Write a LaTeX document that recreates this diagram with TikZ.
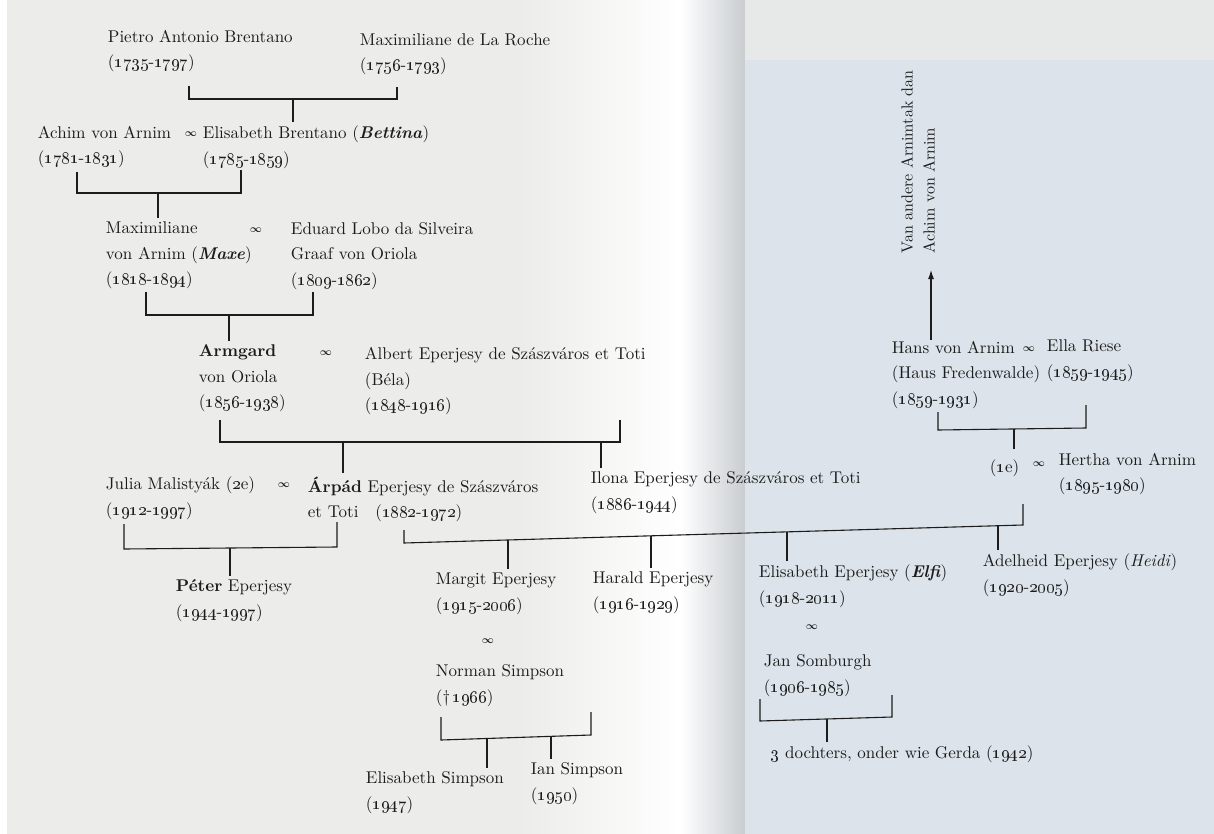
\documentclass[tikz,border=0pt]{standalone}
\usepackage{tikz}
\usetikzlibrary{calc}
\usetikzlibrary{arrows.meta}

\definecolor{pageleft}{HTML}{ECECEA}
\definecolor{pageright}{HTML}{DCE3EA}
\definecolor{pagetop}{HTML}{E7E8E8}
\definecolor{spine}{HTML}{C9CDD0}
\definecolor{ink}{HTML}{1C1C1C}

\newcommand\psz{\fontsize{10}{15}\selectfont}
\newcommand\os[1]{\oldstylenums{#1}}
\newcommand\ls[2]{(\oldstylenums{#1}-\oldstylenums{#2})}

\begin{document}
\begin{tikzpicture}[x=1pt, y=-1pt, line width=1.1pt,
    person/.style={anchor=north west, inner sep=0pt, align=left, font=\psz, text=ink, scale=1.7},
    wed/.style={inner sep=0pt, font=\fontsize{10}{12}\selectfont\boldmath, text=ink, scale=1.05},
    note/.style={rotate=90, anchor=west, align=left, inner sep=0pt,
                 font=\fontsize{10}{13.75}\selectfont, text=ink, scale=1.6},
    drop/.style={draw=ink, shorten >=3pt}]
            \useasboundingbox (0,0) rectangle (1214,834);
            \fill[pageleft] (0,0) rectangle (1214,834);
            \fill[white] (0,0) rectangle (7,834);
            \shade[left color=pageleft, right color=white] (520,0) rectangle (680,834);
            \shade[left color=white, right color=spine] (680,0) rectangle (745,834);
            \fill[pagetop] (745,0) rectangle (1214,60);
            \fill[pageright] (745,60) rectangle (1214,834);

            \node[person] (pietro) at (107,29) {Pietro Antonio Brentano\\\ls{1735}{1797}};
            \node[person] (laroche) at (359,32.5) {Maximiliane de La Roche\\\ls{1756}{1793}};
            \node[person] (achim) at (37,125) {Achim von Arnim\\\ls{1781}{1831}};
            \node[wed] (w1) at (191,134) {$\infty$};
            \node[person] (bettina) at (202,125) {Elisabeth Brentano (\textbf{\textit{Bettina}})\\\ls{1785}{1859}};
            \node[person] (maxe) at (105,221) {Maximiliane\\von Arnim (\textbf{\textit{Maxe}})\\\ls{1818}{1894}};
            \node[wed] (w2) at (256,230) {$\infty$};
            \node[person] (eduard) at (290,221.5) {Eduard Lobo da Silveira\\Graaf von Oriola\\\ls{1809}{1862}};
            \node[person] (armgard) at (198,344) {\textbf{Armgard}\\von Oriola\\\ls{1856}{1938}};
            \node[wed] (w3) at (326,353) {$\infty$};
            \node[person] (albert) at (364,346.5) {Albert Eperjesy de Szászváros et Toti\\(Béla)\\\ls{1848}{1916}};
            \node[person] (julia) at (105,476) {Julia Malistyák (\os{2}e)\\\ls{1912}{1997}};
            \node[wed] (w4) at (284,485) {$\infty$};
            \node[person] (arpad) at (307,476) {\textbf{Árpád} Eperjesy de Szászváros\\et Toti\hspace{10pt}\ls{1882}{1972}};
            \node[person] (ilona) at (590,471) {Ilona Eperjesy de Szászváros et Toti\\\ls{1886}{1944}};
            \node[person] (hans) at (891,340) {Hans von Arnim\\(Haus Fredenwalde)\\\ls{1859}{1931}};
            \node[wed] (w5) at (1029,349) {$\infty$};
            \node[person] (ella) at (1046,339) {Ella Riese\\\ls{1859}{1945}};
            \node[note] (note) at (918,254) {Van andere Arnimtak dan\\Achim von Arnim};
            \node[person] (first) at (989,459) {(\os{1}e)};
            \node[wed] (w6) at (1039,464) {$\infty$};
            \node[person] (hertha) at (1058,452) {Hertha von Arnim\\\ls{1895}{1980}};
            \node[person] (peter) at (175,579) {\textbf{Péter} Eperjesy\\\ls{1944}{1997}};
            \node[person] (margit) at (435,572) {Margit Eperjesy\\\ls{1915}{2006}};
            \node[wed] (w7) at (488,641) {$\infty$};
            \node[person] (norman) at (435,664) {Norman Simpson\\(\textdagger\,\os{1966})};
            \node[person] (harald) at (592,571) {Harald Eperjesy\\\ls{1916}{1929}};
            \node[person] (elfi) at (758,564) {Elisabeth Eperjesy (\textbf{\textit{Elfi}})\\\ls{1918}{2011}};
            \node[wed] (w8) at (812,627) {$\infty$};
            \node[person] (jan) at (763,654) {Jan Somburgh\\\ls{1906}{1985}};
            \node[person] (heidi) at (982,553) {Adelheid Eperjesy (\textit{Heidi})\\\ls{1920}{2005}};
            \node[person] (esimpson) at (365,771) {Elisabeth Simpson\\(\os{1947})};
            \node[person] (ian) at (530,762) {Ian Simpson\\(\os{1950})};
            \node[person] (dochters) at (770,745) {\os{3} dochters, onder wie Gerda (\os{1942})};

            \coordinate (B1a) at (189,86);   \coordinate (B1b) at (189,99);
            \coordinate (B1c) at (397,99);   \coordinate (B1d) at (397,87);
            \coordinate (B1m) at (293,99);
            \coordinate (B2a) at (77,172);   \coordinate (B2b) at (77,193);
            \coordinate (B2c) at (241,193);  \coordinate (B2d) at (241,170);
            \coordinate (B2m) at (158,193);
            \coordinate (B3a) at (146,292);  \coordinate (B3b) at (146,315);
            \coordinate (B3c) at (313,315);  \coordinate (B3d) at (313,292);
            \coordinate (B3m) at (229,315);
            \coordinate (B4a) at (220,420);  \coordinate (B4b) at (220,442);
            \coordinate (B4c) at (620,442);  \coordinate (B4d) at (620,420);
            \coordinate (B4m) at (343,442);  \coordinate (B4n) at (601,442);
            \coordinate (B5a) at (124,524);  \coordinate (B5b) at (124,549);
            \coordinate (B5c) at (337,547);  \coordinate (B5d) at (337,522);
            \coordinate (B5m) at (230,548);
            \coordinate (B6a) at (404,530);  \coordinate (B6b) at (404,543);
            \coordinate (B6c) at (1023,525); \coordinate (B6d) at (1023,504);
            \coordinate (B6m) at (508,540);  \coordinate (B6n) at (651,535.8);
            \coordinate (B6o) at (787,531.9); \coordinate (B6p) at (998,525.7);
            \coordinate (B7a) at (938,412);  \coordinate (B7b) at (938,430);
            \coordinate (B7c) at (1086,428); \coordinate (B7d) at (1086,405);
            \coordinate (B7m) at (1014,429);
            \coordinate (B8a) at (441,717);  \coordinate (B8b) at (441,740);
            \coordinate (B8c) at (591,735);  \coordinate (B8d) at (591,712);
            \coordinate (B8m) at (487,738.5); \coordinate (B8n) at (551,736.7);
            \coordinate (B9a) at (760,699);  \coordinate (B9b) at (760,721);
            \coordinate (B9c) at (892,717);  \coordinate (B9d) at (892,695);
            \coordinate (B9m) at (827,719);
            \coordinate (up) at (931,270);

            \draw[ink] (B1a) -- (B1b) -- (B1c) -- (B1d);
            \draw[ink] (B2a) -- (B2b) -- (B2c) -- (B2d);
            \draw[ink] (B3a) -- (B3b) -- (B3c) -- (B3d);
            \draw[ink] (B4a) -- (B4b) -- (B4c) -- (B4d);
            \draw[ink] (B5a) -- (B5b) -- (B5c) -- (B5d);
            \draw[ink] (B6a) -- (B6b) -- (B6c) -- (B6d);
            \draw[ink] (B7a) -- (B7b) -- (B7c) -- (B7d);
            \draw[ink] (B8a) -- (B8b) -- (B8c) -- (B8d);
            \draw[ink] (B9a) -- (B9b) -- (B9c) -- (B9d);

            \draw[drop] (B1m) -- (B1m |- bettina.north);
            \draw[drop] (B2m) -- (B2m |- maxe.north);
            \draw[drop] (B3m) -- (B3m |- armgard.north);
            \draw[drop] (B4m) -- (B4m |- arpad.north);
            \draw[drop] (B4n) -- (B4n |- ilona.north);
            \draw[drop] (B5m) -- (B5m |- peter.north);
            \draw[drop] (B6m) -- (B6m |- margit.north);
            \draw[drop] (B6n) -- (B6n |- harald.north);
            \draw[drop] (B6o) -- (B6o |- elfi.north);
            \draw[drop] (B6p) -- (B6p |- heidi.north);
            \draw[drop] (B7m) -- (B7m |- hertha.north);
            \draw[drop] (B8m) -- (B8m |- esimpson.north);
            \draw[drop] (B8n) -- (B8n |- ian.north);
            \draw[drop] (B9m) -- (B9m |- dochters.north);
            \draw[ink, -{Latex[length=9pt,width=6pt]}] (up |- hans.north) -- (up);
        \end{tikzpicture}
\end{document}
